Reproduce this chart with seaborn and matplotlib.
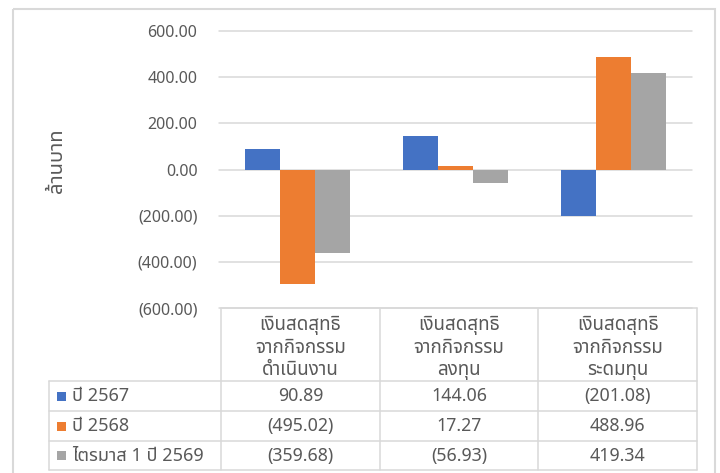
import matplotlib
matplotlib.use("Agg")
import matplotlib.pyplot as plt
from matplotlib.patches import Rectangle
import seaborn as sns
import pandas as pd
import numpy as np

# ---------------- data ----------------
categories = [
    "เงินสดสุทธิ\nจากกิจกรรม\nดำเนินงาน",
    "เงินสดสุทธิ\nจากกิจกรรม\nลงทุน",
    "เงินสดสุทธิ\nจากกิจกรรม\nระดมทุน",
]
series = ["ปี 2567", "ปี 2568", "ไตรมาส 1 ปี 2569"]
values_2567 = [90.89, 144.06, -201.08]
values_2568 = [-495.02, 17.27, 488.96]
values_q1_2569 = [-359.68, -56.93, 419.34]
all_values = [values_2567, values_2568, values_q1_2569]
colors = ["#4472C4", "#ED7D31", "#A5A5A5"]
y_ticks = [-600, -400, -200, 0, 200, 400, 600]
y_label = "ล้านบาท"


def fmt(v):
    return f"({abs(v):,.2f})" if v < 0 else f"{v:,.2f}"


rows = []
for s, vals in zip(series, all_values):
    for c, v in zip(categories, vals):
        rows.append({"category": c, "series": s, "value": v})
df = pd.DataFrame(rows)

# ---------------- style ----------------
sns.set_style("white")
plt.rcParams["font.family"] = ["Noto Sans Thai", "Noto Sans", "DejaVu Sans"]
TXT = "#595959"
GRID = "#D9D9D9"

W, H = 720, 473
fig = plt.figure(figsize=(W / 100, H / 100), dpi=100)

# pixel-space background axes for frame, table and labels
bg = fig.add_axes([0, 0, 1, 1])
bg.set_xlim(0, W)
bg.set_ylim(H, 0)
bg.axis("off")

px_left, px_right, px_top, px_bottom = 219, 692, 31, 308
ax = fig.add_axes([px_left / W, 1 - px_bottom / H,
                   (px_right - px_left) / W, (px_bottom - px_top) / H])
ax.patch.set_visible(False)

sns.barplot(data=df, x="category", y="value", hue="series",
            palette=colors, width=0.665, saturation=1, gap=0,
            linewidth=0, legend=False, ax=ax, errorbar=None)

ax.set_xlim(-0.5, len(categories) - 0.5)
ax.set_ylim(min(y_ticks), max(y_ticks))
ax.set_yticks(y_ticks)
ax.set_yticklabels([fmt(t) for t in y_ticks])
ax.set_xticks([])
ax.set_xlabel("")
ax.set_ylabel("")
ax.yaxis.grid(True, color=GRID, linewidth=1.1)
ax.set_axisbelow(True)
for sp in ax.spines.values():
    sp.set_visible(False)
ax.tick_params(axis="y", length=0, pad=15.5, labelsize=11.5, labelcolor=TXT)
for gl in ax.get_ygridlines():
    gl.set_clip_on(False)

# outer frame
bg.add_patch(Rectangle((13, 9), 702, 520, fill=False, edgecolor=GRID, linewidth=1.5))

# y label
bg.text(57, 161, y_label, rotation=90, ha="center",
        va="center", fontsize=14.5, color=TXT)

# ---------------- data table ----------------
tbl_left, tbl_right = 221, 697
col_edges = np.linspace(tbl_left, tbl_right, len(categories) + 1)
col_centers = (col_edges[:-1] + col_edges[1:]) / 2
header_top, header_bottom = px_bottom, 381
row_edges = [header_bottom, 411, 441, 470]
table_left = 49
lw = 1.1

for x in col_edges:
    bg.plot([x, x], [header_top, row_edges[-1]], color=GRID, lw=lw)
bg.plot([table_left, table_left], [header_bottom, row_edges[-1]], color=GRID, lw=lw)
bg.plot([tbl_left, tbl_right], [header_top, header_top], color=GRID, lw=lw)
for y in row_edges:
    bg.plot([table_left, tbl_right], [y, y], color=GRID, lw=lw)

header_baselines = [330, 352.5, 375]
for cx, c in zip(col_centers, categories):
    for yb, line in zip(header_baselines, c.split("\n")):
        bg.text(cx, yb, line, ha="center", va="baseline",
                fontsize=13.5, color=TXT)

for i, (s, vals, col) in enumerate(zip(series, all_values, colors)):
    yc = (row_edges[i] + row_edges[i + 1]) / 2
    bg.add_patch(Rectangle((57, yc - 4.5), 9, 9, facecolor=col, edgecolor="none"))
    bg.text(72, yc, s, ha="left", va="center", fontsize=13, color=TXT)
    for cx, v in zip(col_centers, vals):
        bg.text(cx, yc, fmt(v), ha="center", va="center", fontsize=12.8, color=TXT)

fig.savefig("out.png", dpi=100)
